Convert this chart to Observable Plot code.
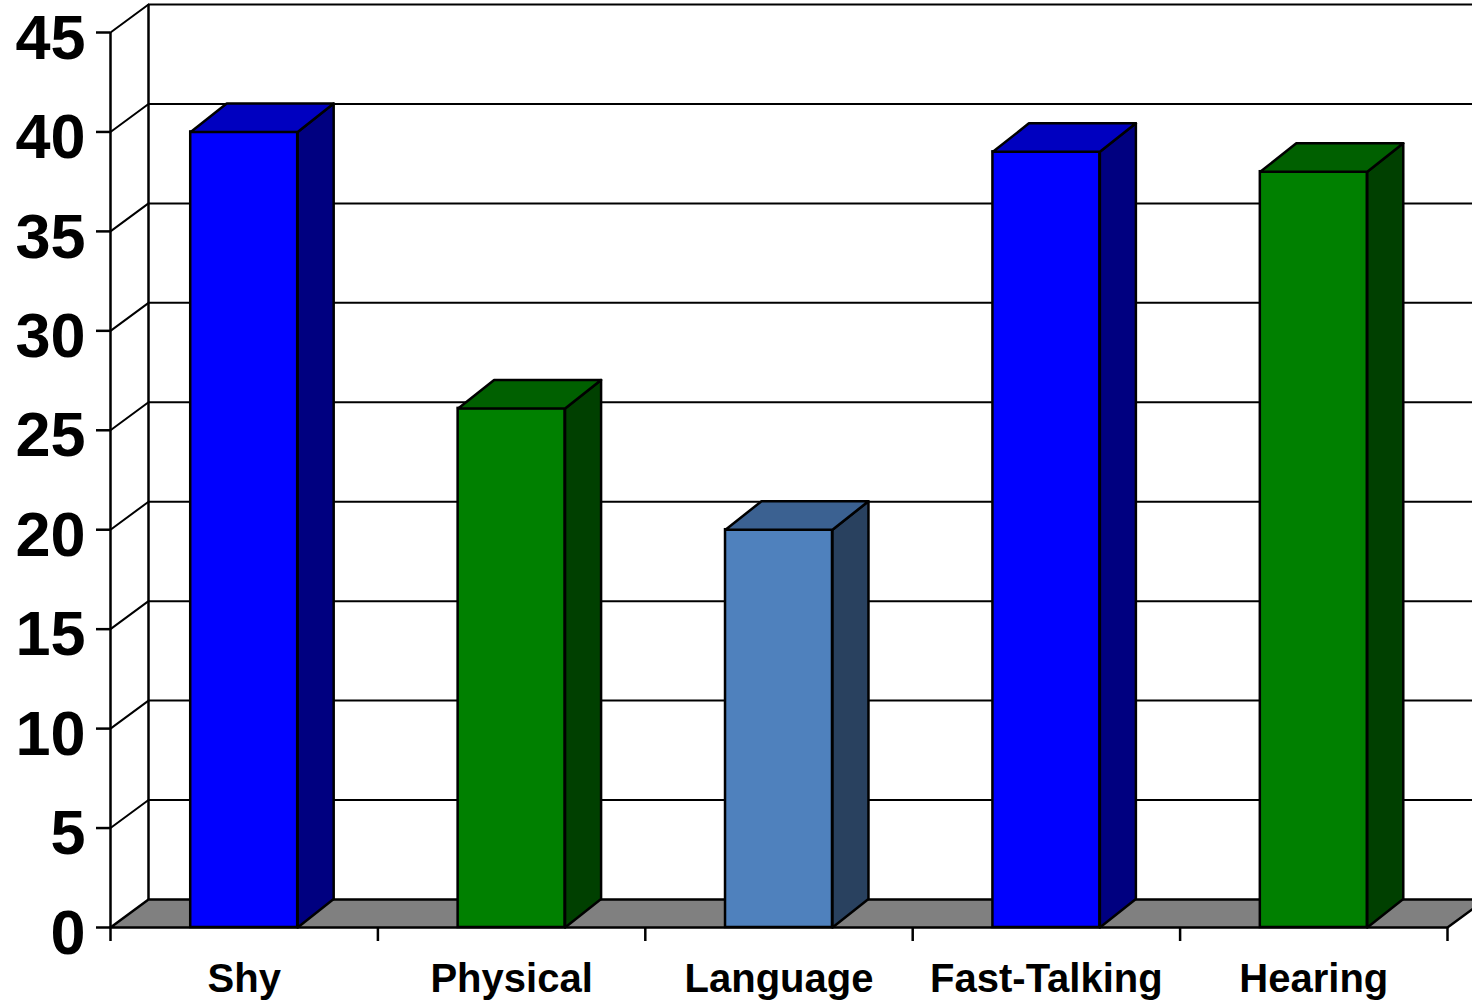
<!DOCTYPE html>
<html>
<head>
<meta charset="utf-8">
<script src="https://cdn.jsdelivr.net/npm/d3@7"></script>
<script src="https://cdn.jsdelivr.net/npm/@observablehq/plot@0.6"></script>
<style>
  html, body { margin: 0; padding: 0; background: #fff; }
  #chart svg { display: block; max-width: none; }
</style>
</head>
<body>
<div id="chart"></div>
<script>
// ---- data ----
const categories = ["Shy", "Physical", "Language", "Fast-Talking", "Hearing"];
const values = [40, 26.1, 20, 39, 38];
const frontColors = ["#0000FF", "#008000", "#4F81BD", "#0000FF", "#008000"];
const topColors   = ["#0000C0", "#006000", "#3B6191", "#0000C0", "#006000"];
const sideColors  = ["#000080", "#004000", "#29415F", "#000080", "#004000"];
const yTicks = [0, 5, 10, 15, 20, 25, 30, 35, 40, 45];

// ---- layout ----
const W = 1472, H = 1003;
const mL = 110, mR = 25, mT = 32, mB = 76;
const kx = categories.length / (W - mL - mR);   // x units per pixel
const ky = 45 / (H - mT - mB);                  // y units per pixel
const wallDX = 38 * kx, wallDY = 28 * ky;      // depth of walls
const barDX = 36 * kx, barDY = 28.5 * ky;      // depth of bars
const barL = 0.3, barR = 0.7;
const tickLen = 14 * kx;
const n = categories.length;

function poly(id, fill, pts) {
  const closed = [...pts, pts[0]];
  return closed.map(([x, y]) => ({id, fill, x, y}));
}

// floor
const floor = poly("floor", "#808080", [[0, 0], [n, 0], [n + wallDX, wallDY], [wallDX, wallDY]]);

// bar faces
let faces = [];
values.forEach((v, i) => {
  const x1 = i + barL, x2 = i + barR;
  faces = faces.concat(poly("side" + i, sideColors[i],
    [[x2, 0], [x2 + barDX, barDY], [x2 + barDX, v + barDY], [x2, v]]));
  faces = faces.concat(poly("top" + i, topColors[i],
    [[x1, v], [x2, v], [x2 + barDX, v + barDY], [x1 + barDX, v + barDY]]));
});
const fronts = values.map((v, i) => ({i, v, fill: frontColors[i]}));

// side wall diagonals at each tick
const diag = yTicks.filter(t => t > 0).flatMap(t => [
  {t, x: 0, y: t}, {t, x: wallDX, y: t + wallDY}
]);

const chart = Plot.plot({
  width: W,
  height: H,
  marginLeft: mL,
  marginRight: mR,
  marginTop: mT,
  marginBottom: mB,
  x: {type: "linear", domain: [0, n], axis: null},
  y: {type: "linear", domain: [0, 45], axis: null},
  color: {type: "identity"},
  style: {fontFamily: "Liberation Sans, Arial, sans-serif", background: "white"},
  marks: [
    // floor
    Plot.line(floor, {x: "x", y: "y", z: "id", fill: "fill", stroke: "black", strokeWidth: 2.5, strokeLinejoin: "miter"}),
    // back-wall gridlines (and top edge)
    Plot.ruleY(yTicks.filter(t => t > 0), {y: d => d + wallDY, x1: wallDX, x2: n + wallDX, stroke: "black", strokeWidth: 2}),
    // back-wall left edge
    Plot.ruleX([wallDX], {x: d => d, y1: wallDY, y2: 45 + wallDY, stroke: "black", strokeWidth: 2.5}),
    // side-wall diagonals
    Plot.line(diag, {x: "x", y: "y", z: "t", stroke: "black", strokeWidth: 2}),
    // front y axis line
    Plot.ruleX([0], {x: d => d, y1: 0, y2: 45, stroke: "black", strokeWidth: 2.5}),
    // y ticks
    Plot.ruleY(yTicks, {y: d => d, x1: -tickLen, x2: 0, stroke: "black", strokeWidth: 2.5}),
    // bars
    Plot.rect(fronts, {x1: d => d.i + barL, x2: d => d.i + barR, y1: 0, y2: "v", fill: "fill", stroke: "black", strokeWidth: 2.5}),
    Plot.line(faces, {x: "x", y: "y", z: "id", fill: "fill", stroke: "black", strokeWidth: 2.5, strokeLinejoin: "round"}),
    // x axis ticks at boundaries
    Plot.ruleX(d3.range(n + 1), {x: d => d, y1: 0, y2: -14 * ky, stroke: "black", strokeWidth: 2.5}),
    // y tick labels
    Plot.text(yTicks, {x: -tickLen, y: d => d, text: d => String(d), textAnchor: "end", dx: -11, dy: 6, fontSize: 63, fontWeight: "bold", fill: "black"}),
    // category labels
    Plot.text(categories, {x: (d, i) => i + 0.5, y: 0, text: d => d, dy: 52, fontSize: 40, fontWeight: "bold", fill: "black"})
  ]
});
document.getElementById("chart").appendChild(chart);
</script>
</body>
</html>
